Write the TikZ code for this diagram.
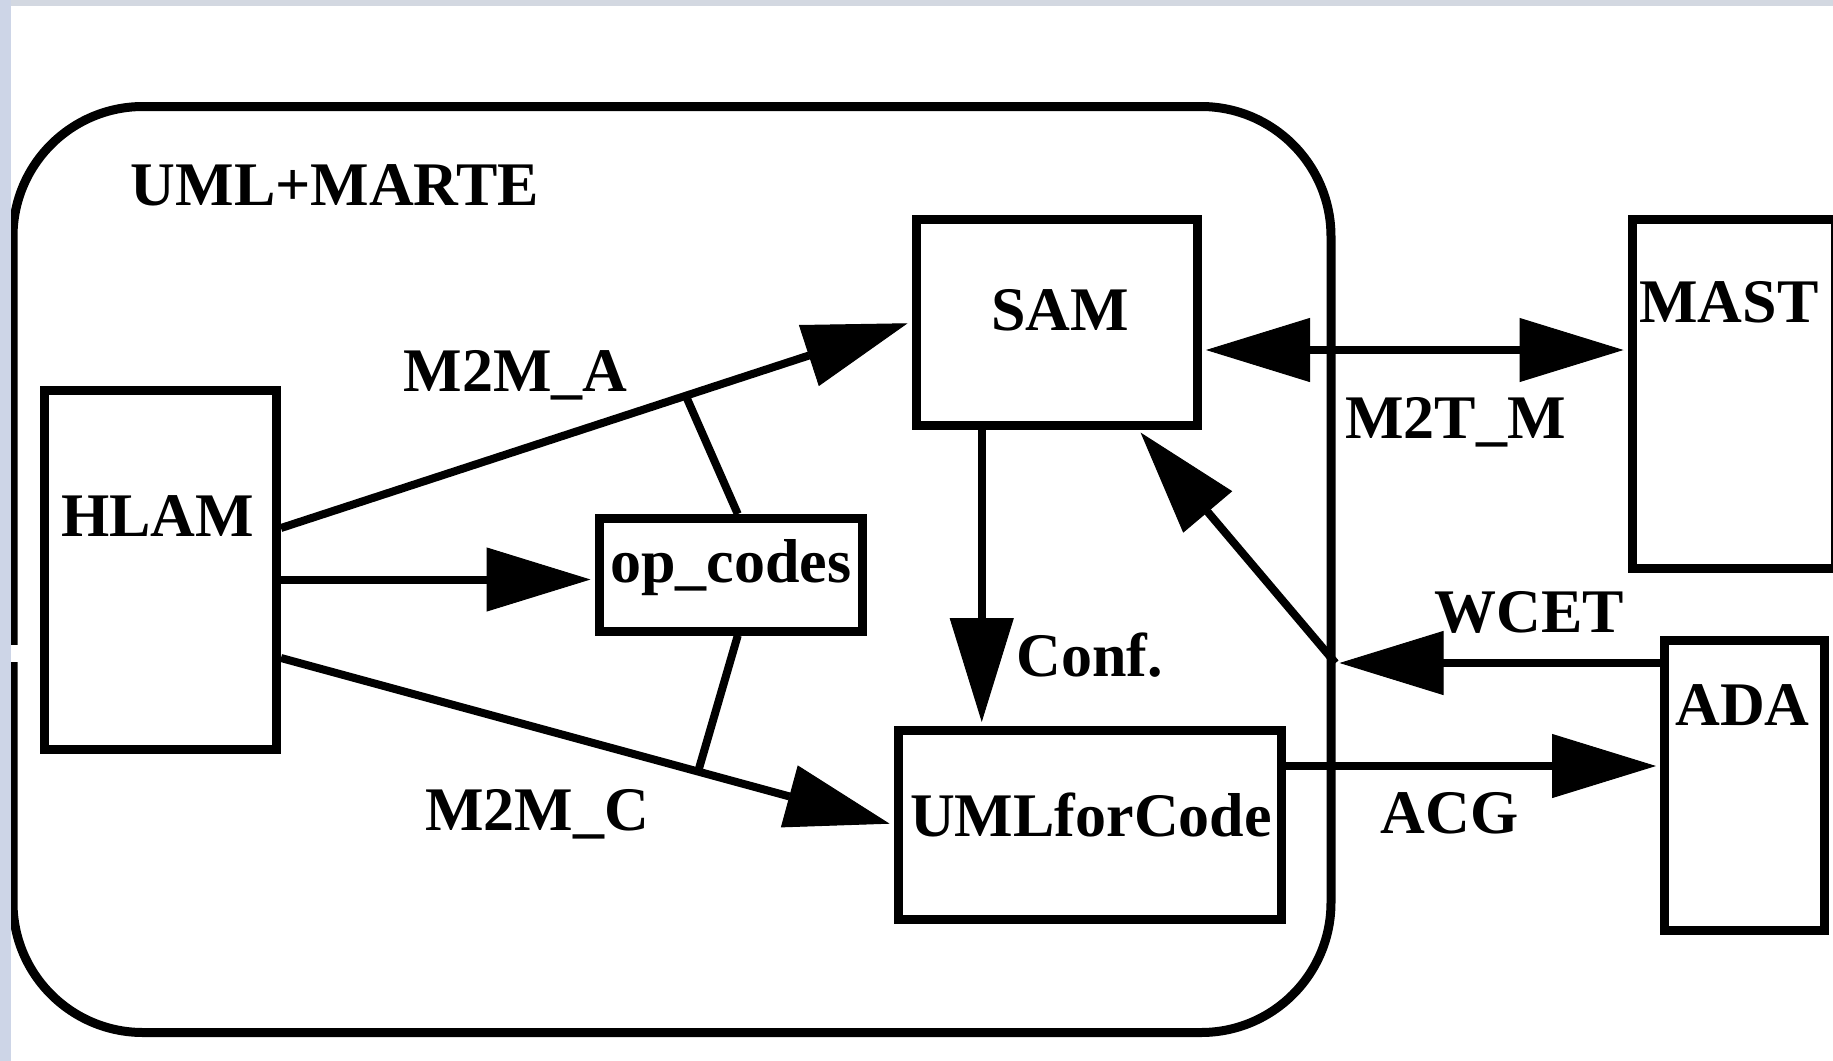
\documentclass[tikz,border=0pt]{standalone}
\usepackage{fontspec}
\setmainfont{Liberation Serif}
\usetikzlibrary{arrows.meta,calc}
\definecolor{topgrey}{RGB}{211,216,225}
\definecolor{leftgrey}{RGB}{205,213,231}

\begin{document}
\begin{tikzpicture}[x=0.5pt,y=-0.5pt,
  box/.style={draw,line width=4.5pt,rectangle,inner sep=0pt},
  lbl/.style={font=\fontsize{31pt}{31pt}\selectfont\bfseries,inner sep=0pt,anchor=base},
  conn/.style={line width=4pt},
  arr/.style={conn,shorten >=2pt,-{Triangle[length=52pt,width=32pt,line width=0.5pt]}},
  arr2/.style={conn,shorten >=2pt,shorten <=2pt,
    {Triangle[length=52pt,width=32pt,line width=0.5pt]}-{Triangle[length=52pt,width=32pt,line width=0.5pt]}}]

\useasboundingbox (0,0) rectangle (1833,1061);
\fill[white] (0,0) rectangle (1833,1061);

% container and blocks
\node[box,rounded corners=65pt,minimum width=659pt,minimum height=463pt] (marte) at (672,569.5) {};
\node[box,minimum width=116pt,minimum height=179.5pt] (hlam) at (160.5,570) {};
\node[box,minimum width=140.75pt,minimum height=103pt] (sam) at (1056.75,322) {};
\node[box,minimum width=131.75pt,minimum height=56.25pt] (ops) at (730.75,574.75) {};
\node[box,minimum width=191.75pt,minimum height=94.25pt] (umlc) at (1089.75,824.75) {};
\node[box,minimum width=101.5pt,minimum height=174.25pt] (mast) at (1733.5,393.75) {};
\node[box,minimum width=79.75pt,minimum height=145pt] (ada) at (1744.25,785.5) {};

% texts
\node[lbl] (tmarte) at (335,205) {UML+MARTE};
\node[lbl] (thlam) at (157.5,536) {HLAM};
\node[lbl] (tsam) at (1060,330) {SAM};
\node[lbl] (tmast) at (1729,322) {MAST};
\node[lbl] (tops) at (731,582) {op\_codes};
\node[lbl] (tumlc) at (1091,836) {UMLforCode};
\node[lbl] (tada) at (1742.5,725) {ADA};
\node[lbl,anchor=base west] (tconf) at (1016,676) {Conf.};
\node[lbl] (tm2ma) at (515.5,391) {M2M\_A};
\node[lbl] (tm2mc) at (537,830) {M2M\_C};
\node[lbl] (tm2tm) at (1455.5,438) {M2T\_M};
\node[lbl] (twcet) at (1529.5,632) {WCET};
\node[lbl] (tacg) at (1449.5,833) {ACG};

% transformations from HLAM
\coordinate (a0) at ($(hlam.east)+(0,-42)$);
\draw[arr] (a0) -- (sam.west);
\draw[conn] ($(a0)!0.642!(sam.west)$) -- ($(ops.north)+(7,0)$);
\coordinate (c0) at ($(hlam.east)+(0,88)$);
\draw[arr] (c0) -- (umlc.west);
\draw[conn] ($(c0)!0.681!(umlc.west)$) -- ($(ops.south)+(7,0)$);
\coordinate (o0) at ($(hlam.east)+(0,9.5)$);
\draw[arr] (o0) -- (o0 -| ops.west);

% SAM to UMLforCode
\coordinate (f0) at ($(sam.south)+(-75,0)$);
\draw[arr] (f0) -- (f0 |- umlc.north);

% SAM <-> MAST
\coordinate (m0) at ($(sam.east)+(0,28)$);
\draw[arr2] (m0) -- (m0 -| mast.west);

% WCET back from ADA
\coordinate (w0) at ($(ada.west)+(0,-122.5)$);
\coordinate (wj) at (w0 -| marte.east);
\draw[arr] (w0) -- (wj);
\draw[arr] (wj) -- ($(sam.south east)+(-64,0)$);

% ACG
\coordinate (g0) at ($(umlc.east)+(0,-58.75)$);
\draw[arr] (g0) -- (g0 -| ada.west);

% window frame
\fill[white] (10.5,645) rectangle (18,662);
\fill[topgrey] (0,0) rectangle (1833,6);
\fill[leftgrey] (0,0) rectangle (11,1061);
\end{tikzpicture}
\end{document}
